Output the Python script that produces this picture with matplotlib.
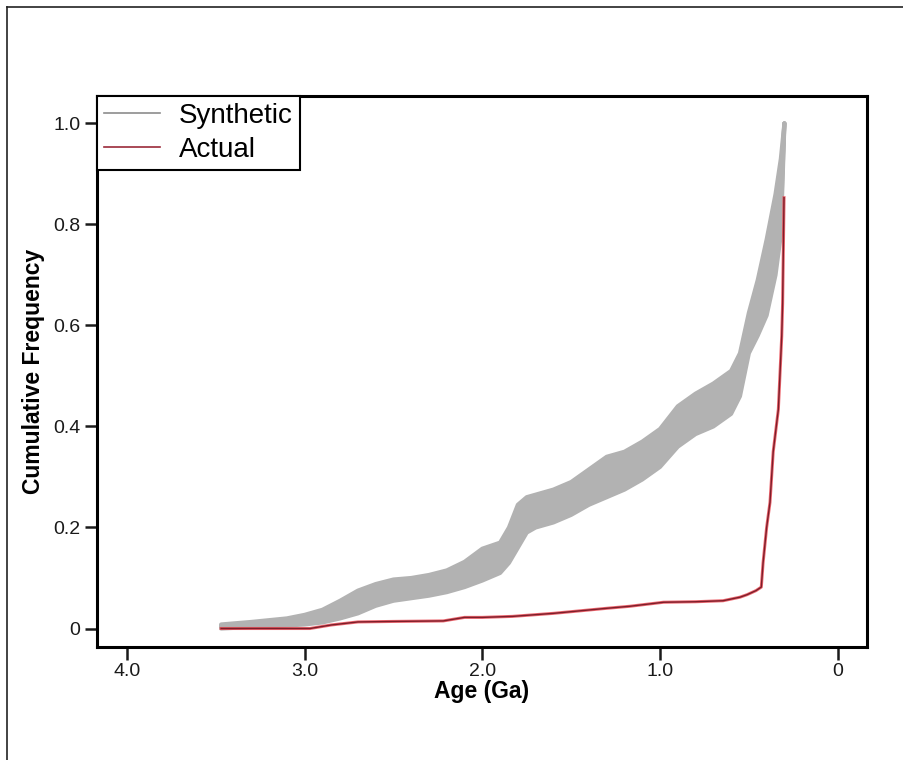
import matplotlib.pyplot as plt
from matplotlib.lines import Line2D
import numpy as np

plt.rcParams['font.family'] = ['Liberation Sans', 'DejaVu Sans']

# age grid shared by the synthetic curves (Ga)
syn_age = [3.47, 3.3, 3.1, 3.0, 2.9, 2.8, 2.7, 2.6, 2.5, 2.4, 2.3, 2.2, 2.1, 2.0,
           1.9, 1.85, 1.8, 1.75, 1.7, 1.6, 1.5, 1.4, 1.3, 1.2, 1.1, 1.0, 0.9, 0.8,
           0.7, 0.6, 0.55, 0.5, 0.45, 0.4, 0.35, 0.32, 0.30]

syn_1 = [0.000, 0.003, 0.006, 0.008, 0.012, 0.020, 0.030, 0.045, 0.055, 0.060, 0.065, 0.072, 0.082, 0.095,
         0.110, 0.130, 0.160, 0.190, 0.200, 0.210, 0.225, 0.245, 0.260, 0.275, 0.295, 0.320, 0.360, 0.385,
         0.400, 0.425, 0.460, 0.545, 0.580, 0.620, 0.700, 0.780, 1.000]
syn_2 = [0.002, 0.005, 0.009, 0.012, 0.018, 0.028, 0.040, 0.055, 0.065, 0.070, 0.075, 0.083, 0.095, 0.110,
         0.125, 0.148, 0.180, 0.205, 0.215, 0.225, 0.240, 0.262, 0.280, 0.293, 0.313, 0.338, 0.378, 0.403,
         0.420, 0.445, 0.478, 0.563, 0.605, 0.655, 0.740, 0.815, 1.000]
syn_3 = [0.004, 0.008, 0.013, 0.017, 0.024, 0.037, 0.052, 0.066, 0.076, 0.080, 0.085, 0.093, 0.107, 0.126,
         0.140, 0.165, 0.202, 0.225, 0.232, 0.242, 0.257, 0.280, 0.300, 0.312, 0.332, 0.357, 0.400, 0.425,
         0.442, 0.467, 0.502, 0.585, 0.635, 0.695, 0.780, 0.855, 1.000]
syn_4 = [0.006, 0.010, 0.016, 0.022, 0.030, 0.046, 0.064, 0.078, 0.087, 0.090, 0.096, 0.104, 0.120, 0.142,
         0.155, 0.183, 0.225, 0.243, 0.249, 0.258, 0.273, 0.297, 0.320, 0.331, 0.351, 0.376, 0.420, 0.445,
         0.463, 0.488, 0.523, 0.605, 0.662, 0.735, 0.820, 0.895, 1.000]
syn_5 = [0.008, 0.013, 0.020, 0.027, 0.037, 0.055, 0.075, 0.088, 0.097, 0.100, 0.106, 0.115, 0.132, 0.158,
         0.170, 0.200, 0.245, 0.260, 0.265, 0.275, 0.290, 0.315, 0.340, 0.350, 0.370, 0.395, 0.440, 0.465,
         0.485, 0.510, 0.545, 0.625, 0.690, 0.770, 0.860, 0.930, 1.000]
synthetic = [syn_1, syn_2, syn_3, syn_4, syn_5]

act_age = [3.47, 3.2, 2.97, 2.85, 2.7, 2.5, 2.22, 2.1, 2.0, 1.83, 1.6, 1.45, 1.3, 1.17, 0.98,
           0.8, 0.645, 0.55, 0.51, 0.46, 0.43, 0.42, 0.40, 0.381, 0.363, 0.334, 0.315, 0.31, 0.302]
act_freq = [0.0, 0.0, 0.0, 0.007, 0.013, 0.014, 0.015, 0.022, 0.022, 0.024, 0.030, 0.035, 0.040, 0.044, 0.052,
            0.053, 0.055, 0.062, 0.067, 0.075, 0.082, 0.130, 0.200, 0.250, 0.350, 0.434, 0.579, 0.644, 0.853]

xticks = [4.0, 3.0, 2.0, 1.0, 0.0]
xtick_labels = ['4.0', '3.0', '2.0', '1.0', '0']
yticks = [0, 0.2, 0.4, 0.6, 0.8, 1.0]
ytick_labels = ['0', '0.2', '0.4', '0.6', '0.8', '1.0']

fig = plt.figure(figsize=(9.04, 7.6), dpi=100)
ax = fig.add_axes([0.1076, 0.1491, 0.8511, 0.725])

gray = '#b2b2b2'
arr = np.array(synthetic)
ax.fill_between(syn_age, arr.min(axis=0), arr.max(axis=0), color=gray, lw=0)
for s in synthetic:
    ax.plot(syn_age, s, color=gray, lw=3, solid_capstyle='round')

ax.plot(act_age, act_freq, color='#e8414b', lw=2.2, alpha=0.8)
ax.plot(act_age, act_freq, color='#7d1e2a', lw=1.0)

ax.set_xlim(4.167, -0.163)
ax.set_ylim(-0.036, 1.055)
ax.set_xticks(xticks)
ax.set_xticklabels(xtick_labels)
ax.set_yticks(yticks)
ax.set_yticklabels(ytick_labels)
ax.tick_params(direction='out', length=9, width=1.8, labelsize=14, colors='#1a1a1a', pad=3)
for sp in ax.spines.values():
    sp.set_linewidth(2.2)

ax.set_xlabel('Age (Ga)', fontsize=16.5, fontweight='bold', labelpad=0)
ax.set_ylabel('Cumulative Frequency', fontsize=16.5, fontweight='bold', labelpad=6)

handles = [Line2D([], [], color='#8c8c8c', lw=1.2),
           Line2D([], [], color='#9b2a3a', lw=1.2)]
leg = ax.legend(handles, ['Synthetic', 'Actual'], loc='upper left', borderaxespad=0,
                fancybox=False, edgecolor='black', fontsize=20, handlelength=2.0,
                borderpad=0.25, labelspacing=0.3, handletextpad=0.7, framealpha=1)
leg.get_frame().set_linewidth(1.5)

# outer frame, left and top edges only visible
fig.add_artist(Line2D([7 / 904, 7 / 904], [0, 1 - 7 / 760], color='#222222', lw=1.2,
                      transform=fig.transFigure))
fig.add_artist(Line2D([7 / 904, 1], [1 - 7 / 760, 1 - 7 / 760], color='#222222', lw=1.2,
                      transform=fig.transFigure))

fig.savefig('out.png')
